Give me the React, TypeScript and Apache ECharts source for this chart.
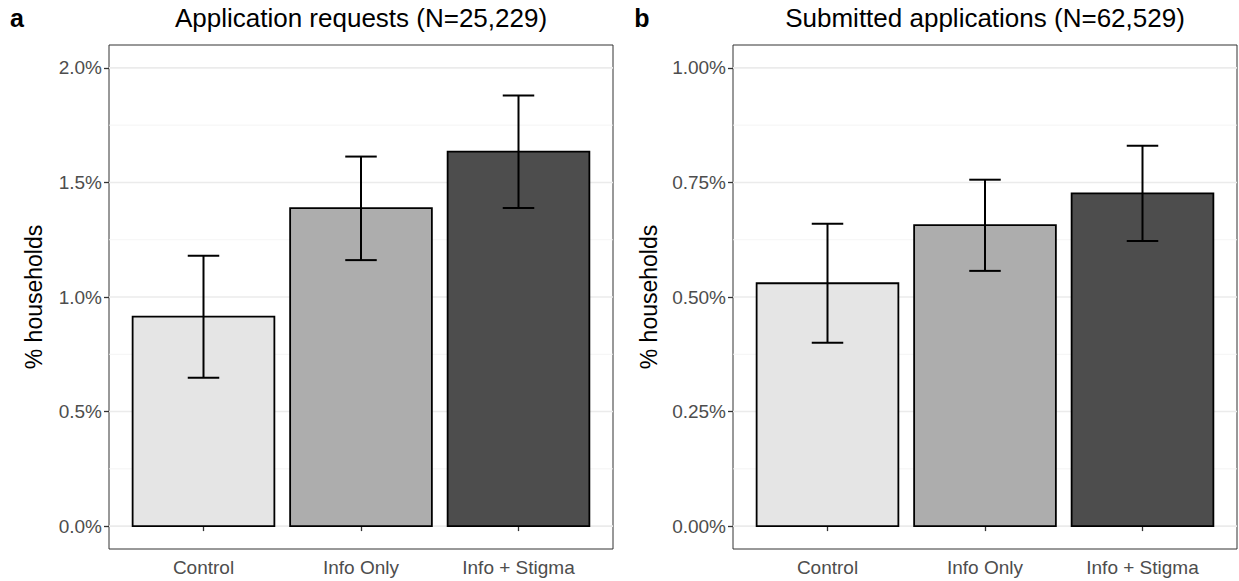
import React, { useEffect, useRef } from "react";
import * as echarts from "echarts";

const categories = ["Control", "Info Only", "Info + Stigma"];
const categoryPositions = [1, 2, 3];
const barColors = ["#e5e5e5", "#adadad", "#4d4d4d"];

const requestsMean = [0.914, 1.388, 1.635];
const requestsLower = [0.647, 1.161, 1.388];
const requestsUpper = [1.18, 1.613, 1.88];

const submittedMean = [0.53, 0.657, 0.726];
const submittedLower = [0.4, 0.557, 0.622];
const submittedUpper = [0.66, 0.756, 0.83];

const requestsMajorTicks = [0, 0.5, 1.0, 1.5, 2.0];
const requestsMinorTicks = [0.25, 0.75, 1.25, 1.75];
const submittedMajorTicks = [0, 0.25, 0.5, 0.75, 1.0];
const submittedMinorTicks = [0.125, 0.375, 0.625, 0.875];

const FONT = "'Liberation Sans', Arial, Helvetica, sans-serif";
const X_MIN = 0.4;
const X_MAX = 3.6;

function gridSeries(idx: number, major: number[], minor: number[]) {
  return {
    type: "custom",
    xAxisIndex: idx,
    yAxisIndex: idx,
    z: 1,
    silent: true,
    clip: false,
    data: [...minor.map((v) => [v, 0]), ...major.map((v) => [v, 1])],
    renderItem: (params: any, api: any) => {
      const v = api.value(0);
      const isMajor = api.value(1) === 1;
      const a = api.coord([X_MIN, v]);
      const b = api.coord([X_MAX, v]);
      return {
        type: "line",
        shape: { x1: a[0], y1: a[1], x2: b[0], y2: b[1] },
        style: { stroke: isMajor ? "#ebebeb" : "#f3f3f3", lineWidth: isMajor ? 1.6 : 0.9 },
      };
    },
  };
}

function barSeries(idx: number, means: number[]) {
  return {
    type: "custom",
    xAxisIndex: idx,
    yAxisIndex: idx,
    z: 3,
    clip: false,
    data: means.map((m, i) => [categoryPositions[i], m, i]),
    renderItem: (params: any, api: any) => {
      const x = api.value(0);
      const y = api.value(1);
      const ci = api.value(2);
      const p0 = api.coord([x, 0]);
      const p1 = api.coord([x, y]);
      const w = api.size([0.9, 0])[0];
      return {
        type: "rect",
        shape: { x: p0[0] - w / 2, y: p1[1], width: w, height: p0[1] - p1[1] },
        style: { fill: barColors[ci], stroke: "#000", lineWidth: 1.8 },
      };
    },
  };
}

function errorSeries(idx: number, lower: number[], upper: number[]) {
  return {
    type: "custom",
    xAxisIndex: idx,
    yAxisIndex: idx,
    z: 4,
    clip: false,
    data: lower.map((l, i) => [categoryPositions[i], l, upper[i]]),
    renderItem: (params: any, api: any) => {
      const x = api.value(0);
      const lo = api.coord([x, api.value(1)]);
      const hi = api.coord([x, api.value(2)]);
      const cw = api.size([0.2, 0])[0] / 2;
      const st = { stroke: "#000", lineWidth: 2 };
      return {
        type: "group",
        children: [
          { type: "line", shape: { x1: lo[0], y1: lo[1], x2: hi[0], y2: hi[1] }, style: st },
          { type: "line", shape: { x1: lo[0] - cw, y1: lo[1], x2: lo[0] + cw, y2: lo[1] }, style: st },
          { type: "line", shape: { x1: hi[0] - cw, y1: hi[1], x2: hi[0] + cw, y2: hi[1] }, style: st },
        ],
      };
    },
  };
}

function xAxis(idx: number) {
  return {
    gridIndex: idx,
    type: "value",
    min: X_MIN,
    max: X_MAX,
    axisLine: { show: false },
    splitLine: { show: false },
    axisTick: { show: true, customValues: categoryPositions, length: 5, lineStyle: { color: "#333", width: 1.3 } },
    axisLabel: {
      customValues: categoryPositions,
      formatter: (v: number) => categories[Math.round(v) - 1] ?? "",
      color: "#4d4d4d",
      fontSize: 19,
      fontFamily: FONT,
      margin: 9,
    },
  };
}

function yAxis(idx: number, min: number, max: number, ticks: number[], digits: number) {
  return {
    gridIndex: idx,
    type: "value",
    min,
    max,
    axisLine: { show: false },
    splitLine: { show: false },
    axisTick: { show: true, customValues: ticks, length: 5, lineStyle: { color: "#333", width: 1.3 } },
    axisLabel: {
      customValues: ticks,
      formatter: (v: number) => v.toFixed(digits) + "%",
      color: "#4d4d4d",
      fontSize: 19,
      fontFamily: FONT,
      margin: 7,
    },
  };
}

export default function App() {
  const ref = useRef<HTMLDivElement>(null);
  useEffect(() => {
    if (!ref.current) return;
    const chart = echarts.init(ref.current, undefined, { renderer: "svg" });
    const gridCommon = { top: 45, bottom: 32, show: true, borderColor: "#333", borderWidth: 1, backgroundColor: "#fff" };
    chart.setOption({
      animation: false,
      backgroundColor: "#fff",
      grid: [
        { ...gridCommon, left: 109, right: 626 },
        { ...gridCommon, left: 733, right: 2 },
      ],
      xAxis: [xAxis(0), xAxis(1)],
      yAxis: [
        yAxis(0, -0.1, 2.1, requestsMajorTicks, 1),
        yAxis(1, -0.05, 1.05, submittedMajorTicks, 2),
      ],
      graphic: [
        { type: "text", x: 17, y: 18, style: { text: "a", font: `bold 25px ${FONT}`, fill: "#000", align: "center", verticalAlign: "middle" } },
        { type: "text", x: 642, y: 18, style: { text: "b", font: `bold 25px ${FONT}`, fill: "#000", align: "center", verticalAlign: "middle" } },
        { type: "text", x: 361, y: 18, style: { text: "Application requests (N=25,229)", font: `26px ${FONT}`, fill: "#000", align: "center", verticalAlign: "middle" } },
        { type: "text", x: 985, y: 18, style: { text: "Submitted applications (N=62,529)", font: `26px ${FONT}`, fill: "#000", align: "center", verticalAlign: "middle" } },
        { type: "text", x: 34, y: 297, rotation: Math.PI / 2, style: { text: "% households", font: `23px ${FONT}`, fill: "#000", align: "center", verticalAlign: "middle" } },
        { type: "text", x: 649, y: 297, rotation: Math.PI / 2, style: { text: "% households", font: `23px ${FONT}`, fill: "#000", align: "center", verticalAlign: "middle" } },
      ],
      series: [
        gridSeries(0, requestsMajorTicks, requestsMinorTicks),
        barSeries(0, requestsMean),
        errorSeries(0, requestsLower, requestsUpper),
        gridSeries(1, submittedMajorTicks, submittedMinorTicks),
        barSeries(1, submittedMean),
        errorSeries(1, submittedLower, submittedUpper),
      ],
    });
    return () => chart.dispose();
  }, []);
  return (
    <div
      ref={ref}
      style={{ position: "fixed", left: 0, top: 0, width: 1239, height: 581, background: "#fff" }}
    />
  );
}
